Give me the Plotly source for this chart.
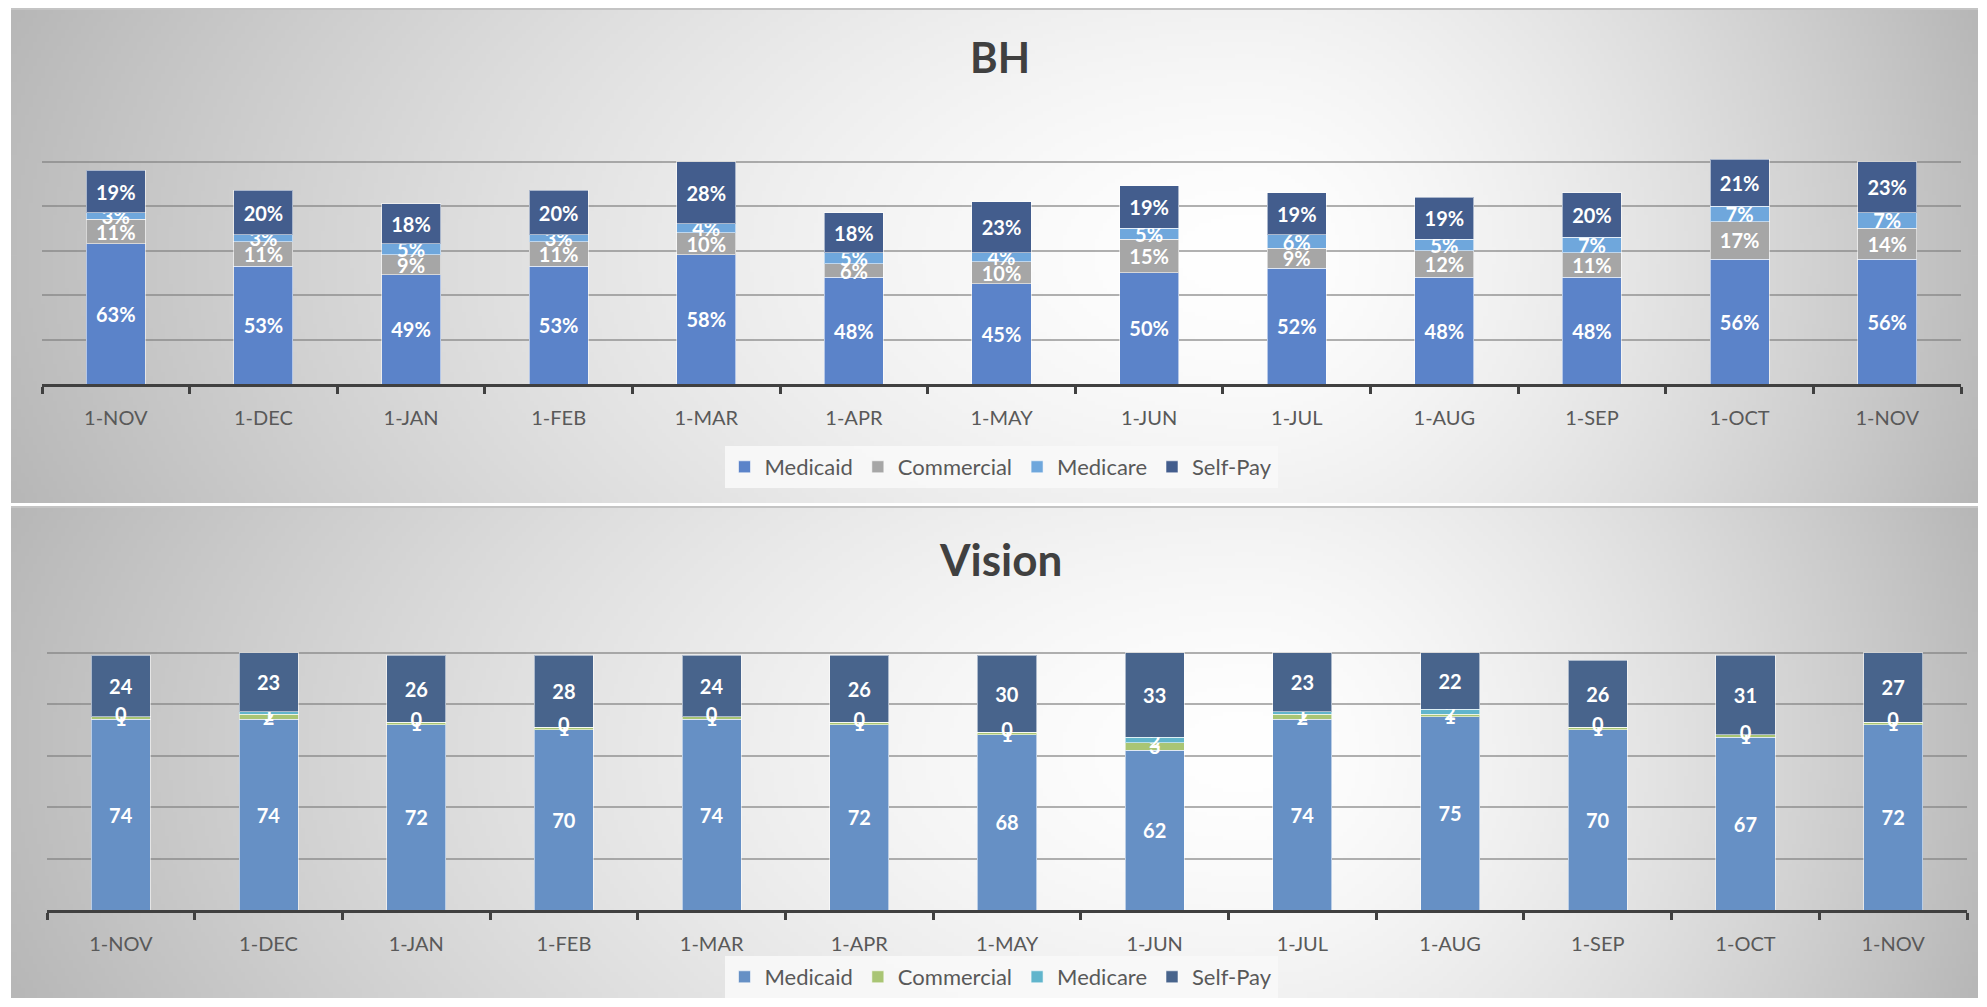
import base64
import struct
import zlib

import numpy as np
import plotly.graph_objects as go

months = ["1-NOV", "1-DEC", "1-JAN", "1-FEB", "1-MAR", "1-APR", "1-MAY",
          "1-JUN", "1-JUL", "1-AUG", "1-SEP", "1-OCT", "1-NOV"]
payers = ["Medicaid", "Commercial", "Medicare", "Self-Pay"]

# BH (percent of visits)
bh_medicaid = [63, 53, 49, 53, 58, 48, 45, 50, 52, 48, 48, 56, 56]
bh_commercial = [11, 11, 9, 11, 10, 6, 10, 15, 9, 12, 11, 17, 14]
bh_medicare = [3, 3, 5, 3, 4, 5, 4, 5, 6, 5, 7, 7, 7]
bh_selfpay = [19, 20, 18, 20, 28, 18, 23, 19, 19, 19, 20, 21, 23]

# Vision
vis_medicaid = [74, 74, 72, 70, 74, 72, 68, 62, 74, 75, 70, 67, 72]
vis_commercial = [1, 2, 1, 1, 1, 1, 1, 3, 2, 1, 1, 1, 1]
vis_medicare = [0, 1, 0, 0, 0, 0, 0, 2, 1, 2, 0, 0, 0]
vis_selfpay = [24, 23, 26, 28, 24, 26, 30, 33, 23, 22, 26, 31, 27]

bh_colors = ["#5B83C9", "#A6A6A6", "#6FA7DC", "#435D8D"]
vis_colors = ["#6690C5", "#A9C574", "#61B5CC", "#48648C"]

# the page body has an 8px margin, so the figure sits at (8, 8) in the window
OFF = 8
FW, FH = 1970, 990
FONT = "Lato"


def px(xw):
    return (xw - OFF) / FW


def py(yw):
    return 1 - (yw - OFF) / FH


def png_uri(arr):
    h, w = arr.shape
    raw = b"".join(b"\x00" + row.tobytes() for row in arr)

    def chunk(tag, data):
        c = struct.pack(">I", len(data)) + tag + data
        return c + struct.pack(">I", zlib.crc32(tag + data) & 0xffffffff)

    ihdr = struct.pack(">IIBBBBB", w, h, 8, 0, 0, 0, 0)
    png = b"\x89PNG\r\n\x1a\n" + chunk(b"IHDR", ihdr) + chunk(b"IDAT", zlib.compress(raw)) + chunk(b"IEND", b"")
    return "data:image/png;base64," + base64.b64encode(png).decode()


def gradient(pw, ph, cx, cy, scale=4):
    w, h = pw // scale, ph // scale
    X, Y = np.meshgrid(np.linspace(0, pw, w), np.linspace(0, ph, h))
    dx = np.where(X < cx, (cx - X) / cx, (X - cx) / (pw - cx))
    dy = np.abs(Y - cy) / cy
    d = np.sqrt(dx ** 2 + 0.12 * dy ** 2)
    v = 255 - 66 * d ** 1.5
    return np.clip(v, 0, 255).astype(np.uint8)


x = list(range(len(months)))
fig = go.Figure()

label_font = dict(family=FONT, size=20, color="white", weight="bold")

bh_series = [bh_medicaid, bh_commercial, bh_medicare, bh_selfpay]
for name, vals, col in zip(payers, bh_series, bh_colors):
    fig.add_trace(go.Bar(
        x=x, y=vals, name=name, xaxis="x", yaxis="y", legend="legend",
        marker=dict(color=col, line=dict(color="rgba(255,255,255,0.55)", width=1)),
        text=vals, texttemplate="%{text}%", textposition="inside",
        insidetextanchor="middle", textangle=0, constraintext="none",
        textfont=label_font, cliponaxis=False, hoverinfo="name+y",
    ))

vis_series = [vis_medicaid, vis_commercial, vis_medicare, vis_selfpay]
for name, vals, col in zip(payers, vis_series, vis_colors):
    fig.add_trace(go.Bar(
        x=x, y=vals, name=name, xaxis="x2", yaxis="y2", legend="legend2",
        marker=dict(color=col, line=dict(color="rgba(255,255,255,0.55)", width=1)),
        text=vals, texttemplate="%{text}", textposition="inside",
        insidetextanchor="middle", textangle=0, constraintext="none",
        textfont=label_font, cliponaxis=False, hoverinfo="name+y",
    ))

# zero-height Medicare segments still carry a "0" label in the original
zx, zy = [], []
for i, v in enumerate(vis_medicare):
    if v == 0:
        zx.append(i)
        zy.append(vis_medicaid[i] + vis_commercial[i])
fig.add_trace(go.Scatter(
    x=zx, y=zy, mode="text", text=["0"] * len(zx), textposition="middle center",
    textfont=label_font, xaxis="x2", yaxis="y2", showlegend=False,
    hoverinfo="skip", cliponaxis=False,
))


def xaxis(domain, anchor):
    return dict(
        domain=domain, anchor=anchor, range=[-0.5, len(months) - 0.5],
        tickmode="array", tickvals=x, ticktext=months, ticks="",
        showline=True, linewidth=3, linecolor="#404040", showgrid=False,
        zeroline=False, ticklabelstandoff=14,
        tickfont=dict(family=FONT, size=20, color="#595959"),
        minor=dict(ticks="outside", tick0=-0.5, dtick=1, ticklen=7,
                   tickwidth=3, tickcolor="#404040", showgrid=False),
        fixedrange=True,
    )


def yaxis(domain, anchor):
    return dict(
        domain=domain, anchor=anchor, range=[0, 120], dtick=20,
        showticklabels=False, showgrid=True, gridcolor="rgba(125,125,125,0.6)",
        gridwidth=2, zeroline=False, showline=False, fixedrange=True,
    )


def legend(ytop):
    return dict(
        orientation="h", x=px(1001), xanchor="center", y=ytop, yanchor="top",
        bgcolor="rgba(248,248,248,0.9)", traceorder="normal",
        font=dict(family=FONT, size=22, color="#595959"),
        itemwidth=30, itemclick=False, itemdoubleclick=False,
    )


panels = [(8, 503), (506, 998)]
left = 11

images = []
for y0, y1 in panels:
    pw, ph = OFF + FW - left, y1 - y0
    images.append(dict(
        source=png_uri(gradient(pw, ph, 1250 - left, ph / 2)),
        xref="paper", yref="paper", x=px(left), y=py(y0),
        sizex=pw / FW, sizey=ph / FH, sizing="stretch",
        xanchor="left", yanchor="top", layer="below",
    ))

shapes = [
    dict(type="line", xref="paper", yref="paper", x0=px(left), x1=1,
         y0=py(y0 + 1), y1=py(y0 + 1), line=dict(color="#c4c4c4", width=2), layer="below")
    for y0, _ in panels
]

fig.update_layout(
    width=FW, height=FH, margin=dict(l=0, r=0, t=0, b=0),
    paper_bgcolor="white", plot_bgcolor="rgba(0,0,0,0)",
    barmode="stack", bargap=0.6, showlegend=True,
    xaxis=xaxis([px(42), px(1961)], "y"),
    yaxis=yaxis([py(384), py(117)], "x"),
    xaxis2=xaxis([px(47), px(1967)], "y2"),
    yaxis2=yaxis([py(910), py(601)], "x2"),
    legend=legend(py(446)),
    legend2=legend(py(956)),
    images=images,
    shapes=shapes,
    annotations=[
        dict(text="<b>BH</b>", xref="paper", yref="paper", x=px(1000), y=py(57),
             yanchor="middle", showarrow=False,
             font=dict(family=FONT, size=42, color="#404040")),
        dict(text="<b>Vision</b>", xref="paper", yref="paper", x=px(1000), y=py(559),
             yanchor="middle", showarrow=False,
             font=dict(family=FONT, size=44, color="#404040")),
    ],
)

fig.write_html("out.html")
